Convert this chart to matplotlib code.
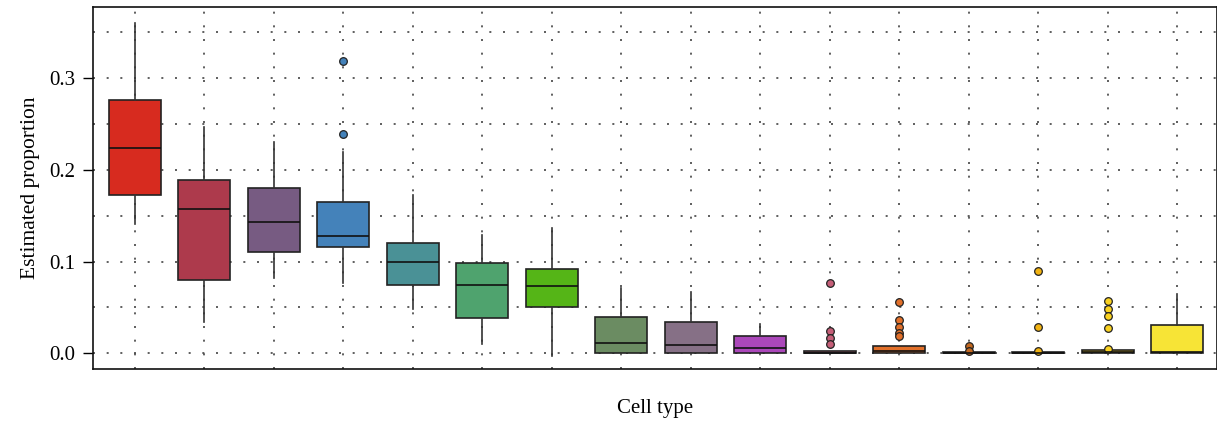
import numpy as np
import matplotlib
matplotlib.use("Agg")
import matplotlib.pyplot as plt

plt.rcParams['font.family'] = ['Liberation Serif', 'DejaVu Serif']

# Box statistics per cell type (read as proportions)
whislo = [0.141, 0.034, 0.082, 0.077, 0.048, 0.010, -0.003, 0.0, 0.0, 0.0, 0.0, 0.0, 0.0, 0.0, 0.0, 0.0]
q1 = [0.173, 0.080, 0.110, 0.116, 0.075, 0.038, 0.050, 0.0, 0.0, 0.0, 0.0, 0.0, 0.0, 0.0, 0.0, 0.0]
med = [0.224, 0.157, 0.143, 0.128, 0.100, 0.075, 0.073, 0.011, 0.009, 0.006, 0.0005, 0.002, 0.0005, 0.0005, 0.001, 0.001]
q3 = [0.276, 0.189, 0.180, 0.165, 0.120, 0.098, 0.092, 0.040, 0.034, 0.019, 0.002, 0.008, 0.0015, 0.0015, 0.0035, 0.031]
whishi = [0.360, 0.247, 0.230, 0.220, 0.173, 0.129, 0.137, 0.071, 0.067, 0.032, 0.002, 0.008, 0.0015, 0.0015, 0.0035, 0.065]
fliers = [[], [], [], [0.319, 0.2395], [], [], [], [], [], [],
          [0.077, 0.024, 0.017, 0.010],
          [0.056, 0.036, 0.029, 0.0225, 0.0185],
          [0.008, 0.003],
          [0.090, 0.029, 0.003],
          [0.057, 0.048, 0.041, 0.028, 0.005],
          []]
colors = ['#D72B1F', '#AD3A4C', '#775B82', '#4482BA', '#4A9196', '#4FA36E',
          '#55B517', '#6B8C62', '#867086', '#AB47BA', '#C55E78', '#E2702A',
          '#C3681F', '#F2B312', '#FAD221', '#F7E436']

stats = []
for i in range(len(med)):
    stats.append(dict(whislo=whislo[i], q1=q1[i], med=med[i], q3=q3[i],
                      whishi=whishi[i], fliers=fliers[i]))

fig = plt.figure(figsize=(12.17, 4.21), dpi=100)
ax = fig.add_axes([0.0764, 0.1235, 0.9236, 0.86])

pos = np.arange(len(med))
bp = ax.bxp(stats, positions=pos, widths=0.75, patch_artist=True, showcaps=False,
            boxprops=dict(edgecolor='#222222', linewidth=1.2),
            medianprops=dict(color='#111111', linewidth=1.2),
            whiskerprops=dict(color='#333333', linewidth=1.2),
            flierprops=dict(marker='o', markersize=5.5, markeredgecolor='#222222',
                            markeredgewidth=0.9))
for i, box in enumerate(bp['boxes']):
    box.set_facecolor(colors[i])
    bp['fliers'][i].set_markerfacecolor(colors[i])

ax.set_xlim(-0.6, 15.57)
ax.set_ylim(-0.0171, 0.3777)
ax.set_yticks([0.0, 0.1, 0.2, 0.3])
ax.set_yticklabels(['0.0', '0.1', '0.2', '0.3'])
ax.set_yticks(np.arange(0.05, 0.37, 0.1), minor=True)
ax.set_xticks(pos)
ax.set_xticklabels([])
ax.tick_params(axis='x', length=0)
ax.tick_params(axis='y', which='major', length=7, width=1, labelsize=15, pad=6)
ax.tick_params(axis='y', which='minor', length=0)

# dotted grid on both axes
grid_style = dict(color='#444444', linestyle=(0, (1.2, 7.0)), linewidth=1.2)
ax.grid(True, which='both', axis='y', **grid_style)
ax.grid(True, which='major', axis='x', **grid_style)
ax.set_axisbelow(True)

for s in ax.spines.values():
    s.set_linewidth(1.2)
    s.set_color('#111111')

ax.set_ylabel('Estimated proportion', fontsize=15.5, labelpad=6)
ax.set_xlabel('Cell type', fontsize=15, labelpad=18)

fig.savefig('out.png', dpi=100)
